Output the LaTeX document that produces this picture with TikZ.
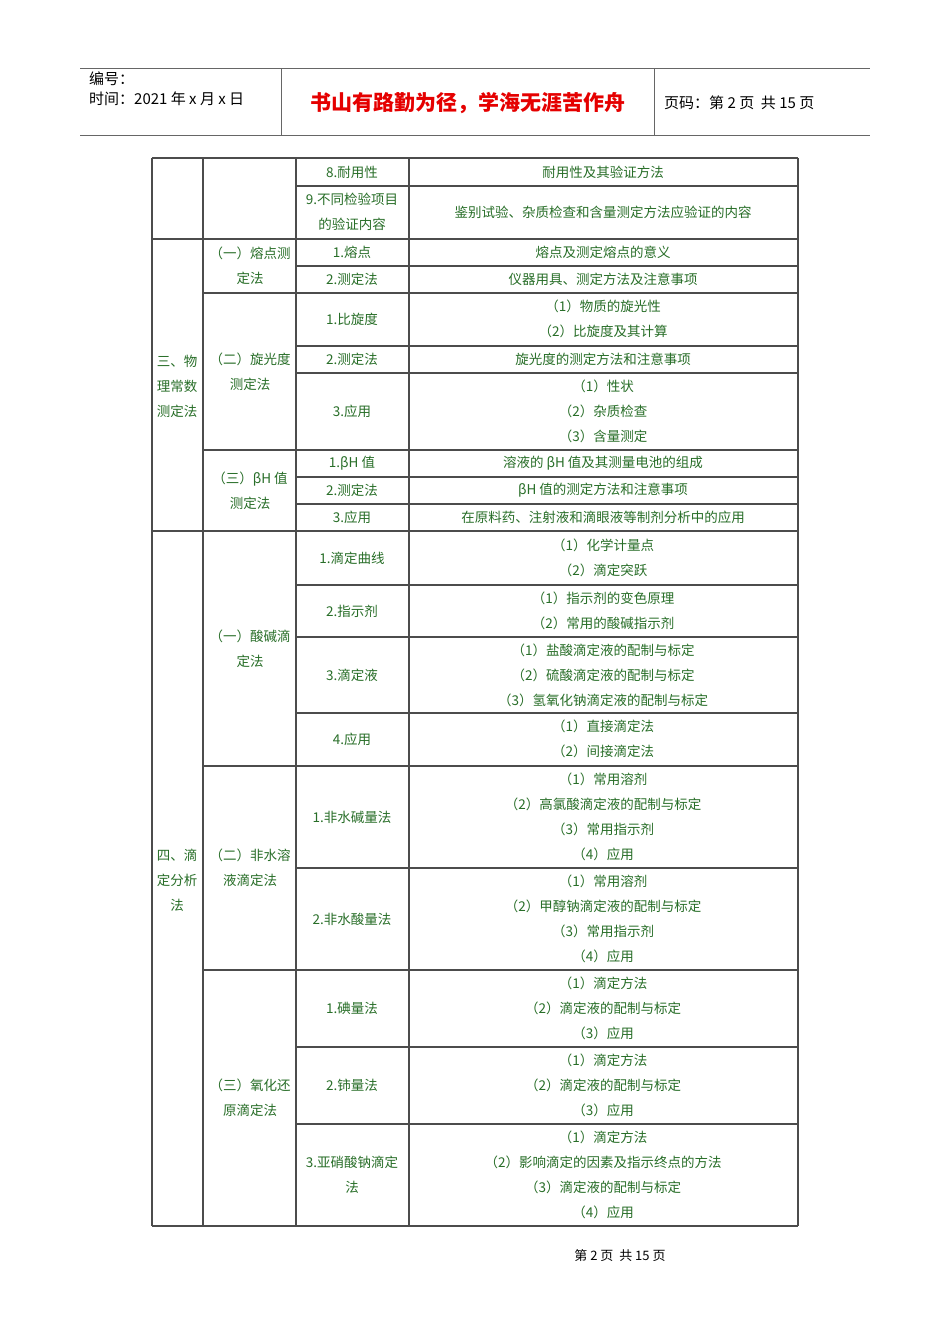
\documentclass[tikz,border=0pt]{standalone}
\usepackage{fontspec}
\setmainfont{Noto Sans CJK SC}
\definecolor{tg}{RGB}{40,110,40}
\begin{document}
\begin{tikzpicture}[x=1pt,y=-1pt,
  rule/.style={draw=black!70,line width=1.6pt},
  cell/.style={text=tg,font=\fontsize{13.5}{25}\selectfont,align=center,inner sep=0pt,anchor=center}]
\useasboundingbox[fill=white] (0,0) rectangle (950,1344);
% header
\draw[black!60,line width=1pt] (80,68) -- (870,68);
\draw[black!60,line width=1pt] (80,135) -- (870,135);
\draw[black!60,line width=1pt] (281,68) -- (281,135);
\draw[black!60,line width=1pt] (654,68) -- (654,135);
\node[anchor=west,font=\fontsize{15}{20}\selectfont,align=left,inner sep=0pt] (hd1) at (89,89) {编号：\\时间：2021 年 x 月 x 日};
\node[font=\fontsize{21}{24}\selectfont\bfseries,text=red!90!black,inner sep=0pt] (ttl) at (468,103) {书山有路勤为径，学海无涯苦作舟};
\node[anchor=west,font=\fontsize{15}{20}\selectfont,inner sep=0pt] (pg) at (664,103) {页码：第 2 页\ \ 共 15 页};
% table rules
\foreach \y in {158,239,531,1226} \draw[rule] (152,\y) -- (798,\y);
\foreach \y in {293,450,766,970} \draw[rule] (203,\y) -- (798,\y);
\foreach \y in {186,266,346,373,477,504,585,637,713,868,1047,1124} \draw[rule] (296,\y) -- (798,\y);
\foreach \x in {152,203,296,409,798} \draw[rule] (\x,158) -- (\x,1226);
% column 1
\node[cell] (s3) at (177,386) {三、物\\理常数\\测定法};
\node[cell] (s4) at (177,880) {四、滴\\定分析\\法};
% column 2
\node[cell] (c21) at (250,266) {（一）熔点测\\定法};
\node[cell] (c22) at (250,372) {（二）旋光度\\测定法};
\node[cell] (c23) at (250,491) {（三）βH 值\\测定法};
\node[cell] (c24) at (250,649) {（一）酸碱滴\\定法};
\node[cell] (c25) at (250,868) {（二）非水溶\\液滴定法};
\node[cell] (c26) at (250,1098) {（三）氧化还\\原滴定法};
% column 3
\node[cell] (a1) at (352,172) {8.耐用性};
\node[cell] (a2) at (352,212) {9.不同检验项目\\的验证内容};
\node[cell] (a3) at (352,252) {1.熔点};
\node[cell] (a4) at (352,279) {2.测定法};
\node[cell] (a5) at (352,319) {1.比旋度};
\node[cell] (a6) at (352,359) {2.测定法};
\node[cell] (a7) at (352,411) {3.应用};
\node[cell] (a8) at (352,463) {1.βH 值};
\node[cell] (a9) at (352,490) {2.测定法};
\node[cell] (a10) at (352,517) {3.应用};
\node[cell] (a11) at (352,558) {1.滴定曲线};
\node[cell] (a12) at (352,611) {2.指示剂};
\node[cell] (a13) at (352,675) {3.滴定液};
\node[cell] (a14) at (352,739) {4.应用};
\node[cell] (a15) at (352,817) {1.非水碱量法};
\node[cell] (a16) at (352,919) {2.非水酸量法};
\node[cell] (a17) at (352,1008) {1.碘量法};
\node[cell] (a18) at (352,1085) {2.铈量法};
\node[cell] (a19) at (352,1175) {3.亚硝酸钠滴定\\法};
% column 4
\node[cell] (b1) at (603,172) {耐用性及其验证方法};
\node[cell] (b2) at (603,212) {鉴别试验、杂质检查和含量测定方法应验证的内容};
\node[cell] (b3) at (603,252) {熔点及测定熔点的意义};
\node[cell] (b4) at (603,279) {仪器用具、测定方法及注意事项};
\node[cell] (b5) at (603,319) {（1）物质的旋光性\\（2）比旋度及其计算};
\node[cell] (b6) at (603,359) {旋光度的测定方法和注意事项};
\node[cell] (b7) at (603,411) {（1）性状\\（2）杂质检查\\（3）含量测定};
\node[cell] (b8) at (603,463) {溶液的 βH 值及其测量电池的组成};
\node[cell] (b9) at (603,490) {βH 值的测定方法和注意事项};
\node[cell] (b10) at (603,517) {在原料药、注射液和滴眼液等制剂分析中的应用};
\node[cell] (b11) at (603,558) {（1）化学计量点\\（2）滴定突跃};
\node[cell] (b12) at (603,611) {（1）指示剂的变色原理\\（2）常用的酸碱指示剂};
\node[cell] (b13) at (603,675) {（1）盐酸滴定液的配制与标定\\（2）硫酸滴定液的配制与标定\\（3）氢氧化钠滴定液的配制与标定};
\node[cell] (b14) at (603,739) {（1）直接滴定法\\（2）间接滴定法};
\node[cell] (b15) at (603,817) {（1）常用溶剂\\（2）高氯酸滴定液的配制与标定\\（3）常用指示剂\\（4）应用};
\node[cell] (b16) at (603,919) {（1）常用溶剂\\（2）甲醇钠滴定液的配制与标定\\（3）常用指示剂\\（4）应用};
\node[cell] (b17) at (603,1008) {（1）滴定方法\\（2）滴定液的配制与标定\\（3）应用};
\node[cell] (b18) at (603,1085) {（1）滴定方法\\（2）滴定液的配制与标定\\（3）应用};
\node[cell] (b19) at (603,1175) {（1）滴定方法\\（2）影响滴定的因素及指示终点的方法\\（3）滴定液的配制与标定\\（4）应用};
% footer
\node[font=\fontsize{13}{14}\selectfont,inner sep=0pt] (ft) at (620,1256) {第\ 2\ 页\ \ 共\ 15\ 页};
\end{tikzpicture}
\end{document}
